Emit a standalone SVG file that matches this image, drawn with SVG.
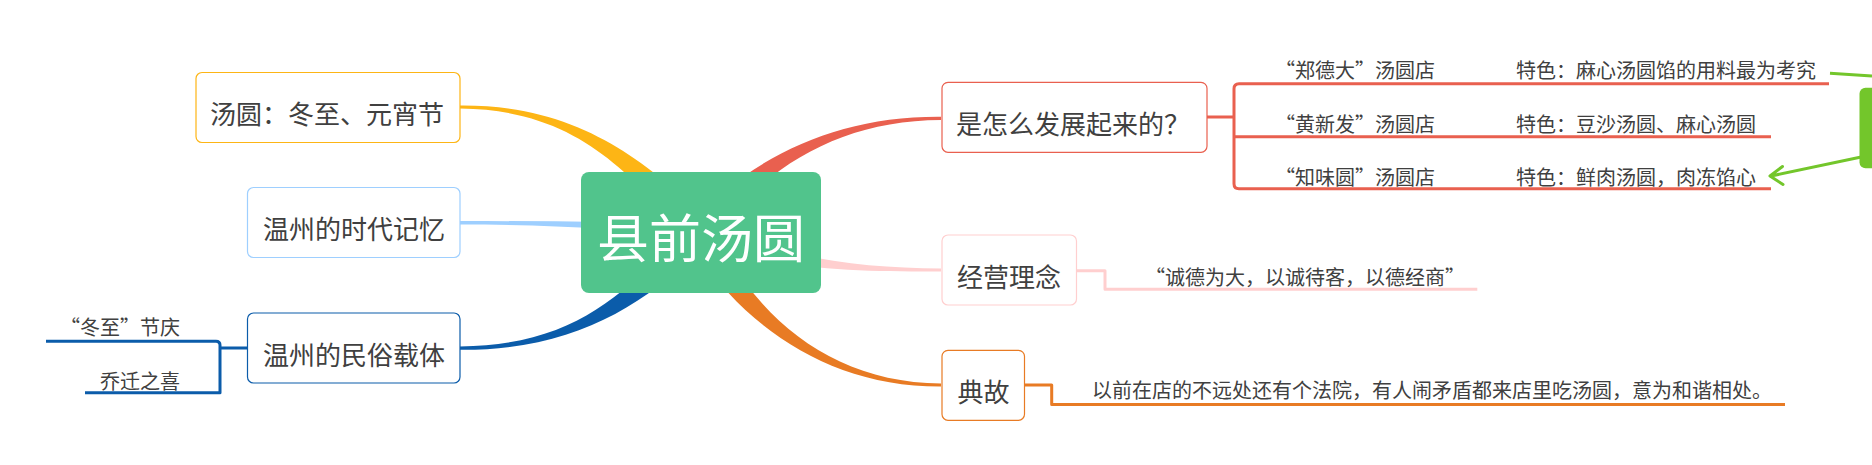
<svg xmlns="http://www.w3.org/2000/svg" width="1872" height="465" viewBox="0 0 1872 465">
<style>
text{font-family:"Noto Sans CJK SC","Noto Sans CJK TC",sans-serif;fill:#404040}
.t26{font-size:26px;text-anchor:middle}
.t20{font-size:20px}
.box{fill:#ffffff;stroke-width:1.2}
.ln{fill:none;stroke-width:3;stroke-linejoin:round}
</style>
<rect width="1872" height="465" fill="#ffffff"/>
<g id="connectors">
<path d="M460,105.5 C580,104.5 648,163 710,222.3 L690,241.7 C632,177 580,109.5 460,108.5 Z" fill="#FDB515"/>
<path d="M460,221 C540,221 620,222 700,224 L700,238 C620,228 540,224.5 460,224.5 Z" fill="#9ECFFF"/>
<path d="M460,346.5 C580,345.5 632,287 690,222.3 L710,241.7 C648,301 580,350.5 460,349.8 Z" fill="#0B5CAA"/>
<path d="M941,116.8 C838,116 755,155 689.2,223 L710.8,241 C765,165 842,120.5 941,120 Z" fill="#E9604F"/>
<path d="M941,268.5 C860,268 790,259 700,224 L700,242 C790,272 860,271.5 941,271.5 Z" fill="#FFCFCF"/>
<path d="M941,386.6 C828,387 740,325 687.5,238.4 L712.5,225.6 C752,316 832,383.4 941,383.4 Z" fill="#E87B24"/>
<path class="ln" stroke="#0B5CAA" d="M247.5,348 H220 M46,341.3 H216 Q220,341.3 220,345.3 V392.8 H85"/>
<path class="ln" stroke="#E9604F" d="M1207,117 H1234 M1449,83.7 H1239 Q1234,83.7 1234,88.7 V183.7 Q1234,188.7 1239,188.7 H1449 M1234,136.7 H1449 M1449,83.7 H1829 M1449,136.7 H1771 M1449,188.7 H1771"/>
<path class="ln" stroke="#FFCFCF" d="M1076.5,270.7 H1105 V289.3 H1477.3"/>
<path class="ln" stroke="#E87B24" d="M1024.3,385 H1051.7 V404.5 H1785"/>
<path class="ln" stroke="#73C62B" d="M1830,73.3 L1872,76"/>
<path class="ln" stroke="#73C62B" stroke-linecap="round" d="M1860,157.3 L1771,176 M1782.5,166.5 L1770,176 L1783,184.5"/>
</g>
<g id="center">
<rect x="581" y="172" width="240" height="121" rx="8" fill="#51C48C"/>
<text x="701" y="258" style="font-size:52px;text-anchor:middle;fill:#ffffff">县前汤圆</text>
</g>
<g id="node-yuanxiao">
<rect class="box" x="196" y="72.5" width="264" height="70" rx="6" stroke="#FDB515"/>
<text class="t26" x="327" y="124">汤圆：冬至、元宵节</text>
</g>
<g id="node-jiyi">
<rect class="box" x="247.5" y="187.5" width="212.5" height="70" rx="6" stroke="#9ECFFF"/>
<text class="t26" x="354" y="239">温州的时代记忆</text>
</g>
<g id="node-minsu">
<rect class="box" x="247.5" y="313" width="212.5" height="70" rx="6" stroke="#0B5CAA"/>
<text class="t26" x="354" y="364.5">温州的民俗载体</text>
</g>
<g id="node-dongzhi"><text class="t20" x="180" y="334.7" text-anchor="end">“冬至”节庆</text></g>
<g id="node-qiaoqian"><text class="t20" x="180" y="388.7" text-anchor="end">乔迁之喜</text></g>
<g id="node-fazhan">
<rect class="box" x="942" y="82.3" width="265" height="70" rx="6" stroke="#E9604F"/>
<text class="t26" x="1073" y="134">是怎么发展起来的？</text>
</g>
<g id="node-zhengdeda"><text class="t20" x="1435" y="78" text-anchor="end">“郑德大”汤圆店</text></g>
<g id="node-tese1"><text class="t20" x="1516" y="78">特色：麻心汤圆馅的用料最为考究</text></g>
<g id="node-huangxinfa"><text class="t20" x="1435" y="131.5" text-anchor="end">“黄新发”汤圆店</text></g>
<g id="node-tese2"><text class="t20" x="1516" y="131.5">特色：豆沙汤圆、麻心汤圆</text></g>
<g id="node-zhiweiyuan"><text class="t20" x="1435" y="184.7" text-anchor="end">“知味圆”汤圆店</text></g>
<g id="node-tese3"><text class="t20" x="1516" y="184.7">特色：鲜肉汤圆，肉冻馅心</text></g>
<g id="node-linian">
<rect class="box" x="942" y="235" width="134.5" height="70" rx="6" stroke="#FFCFCF"/>
<text class="t26" x="1009" y="286.5">经营理念</text>
</g>
<g id="node-linian-text"><text class="t20" x="1305" y="284.7" text-anchor="middle">“诚德为大，以诚待客，以德经商”</text></g>
<g id="node-diangu">
<rect class="box" x="942" y="350.3" width="82.5" height="70" rx="6" stroke="#E87B24"/>
<text class="t26" x="983.5" y="402">典故</text>
</g>
<g id="node-diangu-text"><text class="t20" x="1092" y="398">以前在店的不远处还有个法院，有人闹矛盾都来店里吃汤圆，意为和谐相处。</text></g>
<g id="node-green">
<rect x="1859.5" y="87.7" width="30" height="80.6" rx="6" fill="#73C62B"/>
</g>
</svg>
